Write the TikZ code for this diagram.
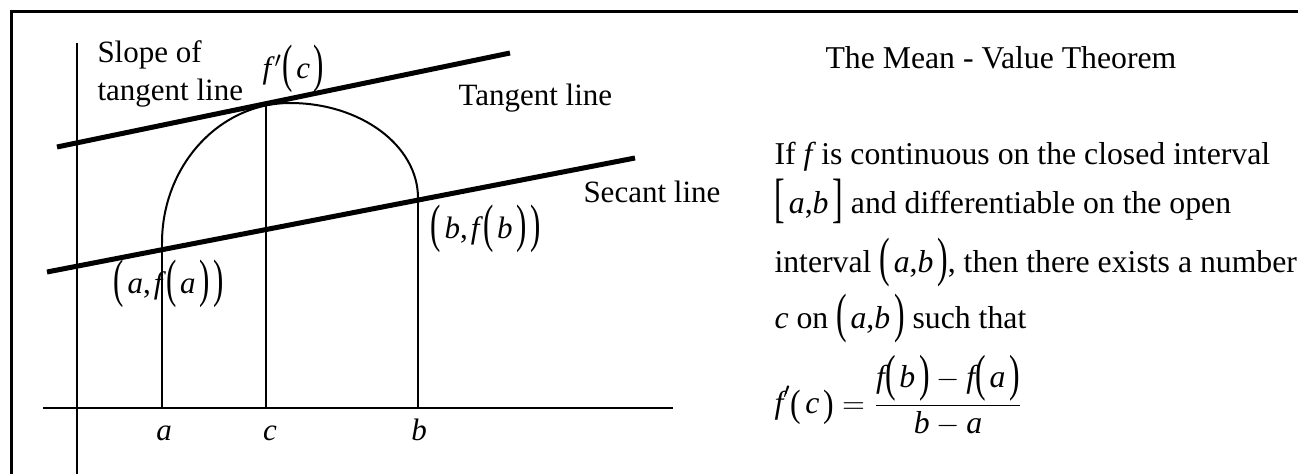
\documentclass[tikz,border=0pt]{standalone}
\usepackage{amsmath}
\usepackage{fontspec}
\setmainfont{Liberation Serif}
\usepackage{tikz}
\newcommand{\mv}[1]{\textit{#1}}
\newcommand{\lp}[1][1.7]{\raisebox{-0.1em}{\scalebox{1}[#1]{(}}\kern0.12em}
\newcommand{\rp}[1][1.7]{\kern0.12em\raisebox{-0.1em}{\scalebox{1}[#1]{)}}}
\newcommand{\lb}[1][1.7]{\raisebox{-0.1em}{\scalebox{1}[#1]{[}}\kern0.12em}
\newcommand{\rb}[1][1.7]{\kern0.12em\raisebox{-0.1em}{\scalebox{1}[#1]{]}}}

\begin{document}
\begin{tikzpicture}[
    x=0.4pt, y=-0.4pt,
    every node/.style={inner sep=0pt, font=\fontsize{12.4}{15}\selectfont},
    lbl/.style={anchor=base west},
    txt/.style={anchor=base west, font=\fontsize{12.7}{15}\selectfont},
    tick/.style={anchor=base},
    frame/.style={line width=1.2pt},
    axis/.style={line width=1pt},
    bold/.style={line width=2pt},
    graph/.style={line width=0.8pt}
]
\useasboundingbox (0,0) rectangle (1298,474);
\draw[frame] (1298,11) -| (11,474);

\coordinate (xl) at (43,408);
\coordinate (xr) at (673,408);
\coordinate (yt) at (77,43);
\coordinate (yb) at (77,474);
\coordinate (A0) at (162,408);
\coordinate (C0) at (266,408);
\coordinate (B0) at (418,408);
\coordinate (FA) at (162,243);
\coordinate (FC) at (266,104);
\coordinate (FB) at (418,198);
\coordinate (T1) at (57,147);
\coordinate (T2) at (510,53);
\coordinate (S1) at (47,272);
\coordinate (S2) at (635,158);

\draw[axis] (xl) -- (xr);
\draw[axis] (yt) -- (yb);
\draw[axis] (A0) -- (FA);
\draw[axis] (C0) -- (FC);
\draw[axis] (B0) -- (FB);
\draw[graph] (FA) arc[start angle=180, end angle=270, x radius=128, y radius=140]
    arc[start angle=270, end angle=360, x radius=128, y radius=95];
\draw[bold] (T1) -- (T2);
\draw[bold] (S1) -- (S2);

\node[tick] (a) at (164,440) {\mv{a}};
\node[tick] (c) at (270,440) {\mv{c}};
\node[tick] (b) at (419,440) {\mv{b}};

\node[lbl] (slope1) at (97,62) {Slope of};
\node[lbl] (slope2) at (97,100) {tangent line};
\node[lbl] (fc) at (262,78) {\mv{f}$'$\lp\mv{c}\rp};
\node[lbl] (tangent) at (458,105) {Tangent line};
\node[lbl] (secant) at (583,202) {Secant line};
\node[lbl] (fa) at (113,293) {\lp\mv{a},\kern0.1em\mv{f}\lp\mv{a}\rp\rp};
\node[lbl] (fb) at (430,238) {\lp\mv{b},\kern0.1em\mv{f}\lp\mv{b}\rp\rp};

\node[txt] (title) at (825,68) {The Mean - Value Theorem};
\node[txt] (line1) at (774,164) {If \mv{f}\,is continuous on the closed interval};
\node[txt] (line2) at (774,213) {\lb\mv{a},\mv{b}\rb{} and differentiable on the open};
\node[txt] (line3) at (774,272) {interval \lp\mv{a},\mv{b}\rp, then there exists a number};
\node[txt] (line4) at (774,328) {\mv{c} on \lp\mv{a},\mv{b}\rp{} such that};
\node[txt] (mvt) at (774,413) {$\mv{f}'\mbox{\lp[1.2]\mv{c}\rp[1.2]}=\dfrac{\mv{f}\mbox{\lp[1.6]\mv{b}\rp[1.6]}-\mv{f}\mbox{\lp[1.6]\mv{a}\rp[1.6]}}{\mv{b}-\mv{a}}$};
\end{tikzpicture}
\end{document}
